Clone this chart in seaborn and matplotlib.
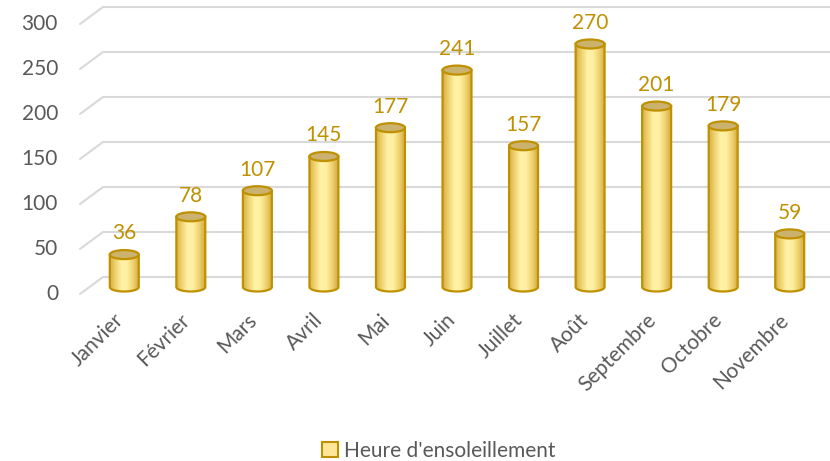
import numpy as np
import pandas as pd
import matplotlib
matplotlib.use("Agg")
import matplotlib.pyplot as plt
import seaborn as sns
from matplotlib.path import Path
from matplotlib.patches import PathPatch, Ellipse, Patch
from matplotlib.colors import LinearSegmentedColormap
from matplotlib.transforms import IdentityTransform

# Monthly sunshine hours
months = ["Janvier", "Février", "Mars", "Avril", "Mai", "Juin", "Juillet",
          "Août", "Septembre", "Octobre", "Novembre"]
hours = [36, 78, 107, 145, 177, 241, 157, 270, 201, 179, 59]
y_ticks = [0, 50, 100, 150, 200, 250, 300]
series_name = "Heure d'ensoleillement"

GOLD = "#BF9000"
GREY_TXT = "#595959"
GRID = "#D9D9D9"
FONT = ["Lato", "DejaVu Sans"]
FS = 15

sns.set_theme(style="white")
plt.rcParams["font.family"] = FONT

W, H, DPI = 830, 461, 100
fig = plt.figure(figsize=(W / DPI, H / DPI), dpi=DPI)

# axes placed in the plane of the cylinders
x_lo, x_hi = 91, 823      # pixel span of the category slots
y0_px, y300_px = 287, 17  # pixel rows of 0 and 300 (from top)
ax = fig.add_axes([x_lo / W, (H - y0_px) / H, (x_hi - x_lo) / W, (y0_px - y300_px) / H])
ax.patch.set_alpha(0)

df = pd.DataFrame({"mois": months, "heures": hours})
sns.barplot(data=df, x="mois", y="heures", color="#FFE699", width=0.435,
            ax=ax, zorder=3)
ax.set_xlim(-0.5, len(months) - 0.5)
ax.set_ylim(0, 300)
ax.axis("off")

px_per_unit = (y0_px - y300_px) / 300.0
ell_half = 4.5 / px_per_unit  # half-height of the cap ellipses, in data units

cmap = LinearSegmentedColormap.from_list(
    "cyl", ["#D6B148", "#F0D370", "#FFF2A8", "#FFEFA0", "#F0D26E", "#D2AC42"])
grad = np.linspace(0, 1, 256).reshape(1, -1)

for patch, val in zip(ax.patches, hours):
    x0 = patch.get_x()
    w = patch.get_width()
    h = patch.get_height()
    xc = x0 + w / 2
    patch.set_visible(False)

    # cylinder body outline: sides + rounded bottom
    t = np.linspace(np.pi, 2 * np.pi, 40)
    bx = xc + (w / 2) * np.cos(t)
    by = ell_half * np.sin(t)
    verts = [(x0, h)] + list(zip(bx, by)) + [(x0 + w, h), (x0, h)]
    codes = [Path.MOVETO] + [Path.LINETO] * (len(verts) - 2) + [Path.CLOSEPOLY]
    body = Path(verts, codes)
    ax.add_patch(PathPatch(body, facecolor="none", edgecolor=GOLD, lw=1.6,
                           zorder=5, clip_on=False))
    im = ax.imshow(grad, cmap=cmap, aspect="auto", zorder=4,
                   extent=[x0, x0 + w, -ell_half, h])
    im.set_clip_path(PathPatch(body, transform=ax.transData))
    im.set_clip_box(fig.bbox)

    # top cap
    ax.add_patch(Ellipse((xc, h), w, 2 * ell_half,
                         facecolor="#CBB26E", edgecolor=GOLD, lw=1.6, zorder=6,
                         clip_on=False))

    ax.annotate(f"{val}", (xc, h), xytext=(0, 8), textcoords="offset points",
                ha="center", va="bottom", color=GOLD, fontsize=FS,
                family=FONT, zorder=7, annotation_clip=False)

ax.set_xlim(-0.5, len(months) - 0.5)
ax.set_ylim(0, 300)

# back wall gridlines, side wall diagonals and value labels (pixel space)
fig.canvas.draw()
back_dx, back_dy = 12, 10
side_dx, side_dy = -23, -17
for v in y_ticks:
    bx0, by0 = ax.transData.transform((-0.5, v))
    bx0 += back_dx
    by0 += back_dy
    fx, fy = bx0 + side_dx, by0 + side_dy
    fig.add_artist(plt.Line2D([fx, bx0, W + 5], [fy, by0, by0], color=GRID, lw=1.5,
                              transform=IdentityTransform(), zorder=-1))
    fig.text((fx - 22) / W, fy / H, f"{v}", ha="right", va="center",
             color=GREY_TXT, fontsize=FS, family=FONT)

# category labels under the cylinders
for i, m in enumerate(months):
    px, py = ax.transData.transform((i, 0))
    fig.text((px - 4) / W, (py - 30) / H, m, ha="right", va="center",
             rotation=45, rotation_mode="anchor", color=GREY_TXT,
             fontsize=FS, family=FONT)

handle = Patch(facecolor="#FFE699", edgecolor=GOLD, lw=1.5)
leg = fig.legend([handle], [series_name], loc="center",
                 bbox_to_anchor=(439 / W, 1 - 451 / H),
                 frameon=False, handlelength=0.75, handleheight=0.75,
                 handletextpad=0.3, prop={"family": FONT, "size": FS})
for txt in leg.get_texts():
    txt.set_color(GREY_TXT)

fig.savefig("out.png", dpi=DPI, facecolor="white")
